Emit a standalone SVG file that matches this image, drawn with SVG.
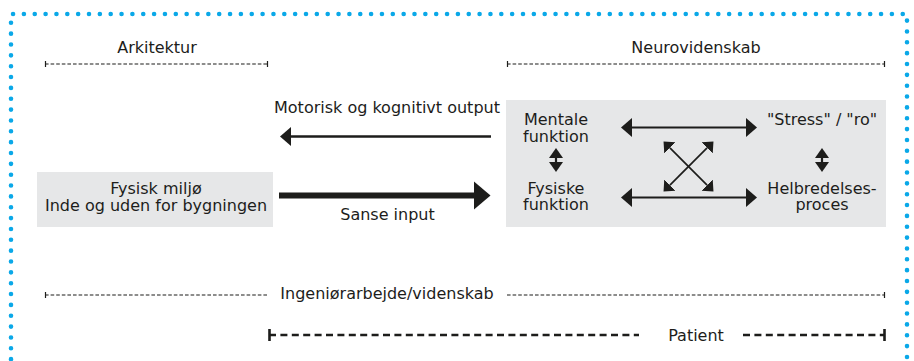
<svg xmlns="http://www.w3.org/2000/svg" width="914" height="361" viewBox="0 0 914 361">
<style>
  text { font-family: "DejaVu Sans", "Liberation Sans", sans-serif; font-size: 16px; fill: #1d1d1b; text-anchor: middle; }
  .box { fill: #e6e7e8; }
  .border { fill: none; stroke: #0aa8e8; stroke-width: 4.6; stroke-dasharray: 0 10.85; stroke-linecap: round; }
  .thin { fill: none; stroke: #1d1d1b; stroke-width: 1.1; stroke-dasharray: 3.6 2; }
  .tick { fill: none; stroke: #1d1d1b; stroke-width: 1.2; }
  .thick { fill: none; stroke: #1d1d1b; stroke-width: 2.6; stroke-dasharray: 7 4.4; }
  .tickb { fill: none; stroke: #1d1d1b; stroke-width: 2.6; }
  .arr { fill: none; stroke: #1d1d1b; stroke-width: 2.2; }
</style>
<defs>
  <marker id="ah" viewBox="0 -10 12 20" refX="1" refY="0" markerWidth="12" markerHeight="20" markerUnits="userSpaceOnUse" orient="auto-start-reverse">
    <path d="M0,-9.5 L11,0 L0,9.5 Z" fill="#1d1d1b"/>
  </marker>
  <marker id="ahBig" viewBox="0 -15 18 30" refX="1" refY="0" markerWidth="18" markerHeight="30" markerUnits="userSpaceOnUse" orient="auto-start-reverse">
    <path d="M0,-14 L16.5,0 L0,14 Z" fill="#1d1d1b"/>
  </marker>
  <marker id="ahSmall" viewBox="0 -8 11 16" refX="0" refY="0" markerWidth="11" markerHeight="16" markerUnits="userSpaceOnUse" orient="auto-start-reverse">
    <path d="M0,-7 L10,0 L0,7 Z" fill="#1d1d1b"/>
  </marker>
  <marker id="ahX" viewBox="0 -9 10 18" refX="0" refY="0" markerWidth="10" markerHeight="18" markerUnits="userSpaceOnUse" orient="auto-start-reverse">
    <path d="M0,-8 L9,0 L0,8 Z" fill="#1d1d1b"/>
  </marker>
</defs>

<rect width="914" height="361" fill="#ffffff"/>

<g id="frame">
  <path class="border" d="M11,370 V14 H907 V370"/>
</g>

<g id="scales">
  <g id="arkitektur">
    <text x="157" y="53">Arkitektur</text>
    <path class="thin" d="M45,64 H268"/>
    <path class="tick" d="M45.5,61 V67 M267.5,61 V67"/>
  </g>
  <g id="neurovidenskab">
    <text x="696" y="53">Neurovidenskab</text>
    <path class="thin" d="M507,64 H885"/>
    <path class="tick" d="M507.5,61 V67 M884.5,61 V67"/>
  </g>
  <g id="ingenioer">
    <text x="387" y="299">Ingeniørarbejde/videnskab</text>
    <path class="thin" d="M45,295 H268 M507,295 H885"/>
    <path class="tick" d="M45.5,292 V298 M884.5,292 V298"/>
  </g>
  <g id="patient">
    <text x="696" y="341">Patient</text>
    <path class="thick" d="M269,335 H639"/>
    <path class="thick" d="M743,335 H885"/>
    <path class="tickb" d="M269.5,329 V341 M884.5,329 V341"/>
  </g>
</g>

<g id="fysisk-miljo">
  <rect class="box" x="37" y="172" width="236" height="55"/>
  <text x="156" y="194">Fysisk miljø</text>
  <text x="156" y="210.5">Inde og uden for bygningen</text>
</g>

<g id="neuro-box">
  <rect class="box" x="506" y="100" width="380" height="127"/>
</g>

<g id="mentale">
  <text x="556" y="125">Mentale</text>
  <text x="556" y="141.5">funktion</text>
</g>
<g id="fysiske">
  <text x="556" y="193.5">Fysiske</text>
  <text x="556" y="210">funktion</text>
</g>
<g id="stress">
  <text x="822" y="125">"Stress" / "ro"</text>
</g>
<g id="helbredelse">
  <text x="822" y="193.5">Helbredelses-</text>
  <text x="822" y="210">proces</text>
</g>

<g id="connectors">
  <g id="output">
    <text x="387" y="113">Motorisk og kognitivt output</text>
    <path d="M491,136.5 H290" fill="none" stroke="#1d1d1b" stroke-width="2.6" marker-end="url(#ah)"/>
  </g>
  <g id="input">
    <text x="387.5" y="219.5">Sanse input</text>
    <path d="M279,195.5 H475" fill="none" stroke="#1d1d1b" stroke-width="6" marker-end="url(#ahBig)"/>
  </g>
  <path class="arr" d="M631,127.5 H747" marker-start="url(#ah)" marker-end="url(#ah)"/>
  <path class="arr" d="M631,197.5 H747" marker-start="url(#ah)" marker-end="url(#ah)"/>
  <path class="arr" d="M556,158 V162" marker-start="url(#ahSmall)" marker-end="url(#ahSmall)"/>
  <path class="arr" d="M822,158 V162" marker-start="url(#ahSmall)" marker-end="url(#ahSmall)"/>
  <path d="M669.9,147.9 L707.1,185.1" fill="none" stroke="#1d1d1b" stroke-width="1.7" marker-start="url(#ahX)" marker-end="url(#ahX)"/>
  <path d="M707.1,147.9 L669.9,185.1" fill="none" stroke="#1d1d1b" stroke-width="1.7" marker-start="url(#ahX)" marker-end="url(#ahX)"/>
</g>
</svg>
